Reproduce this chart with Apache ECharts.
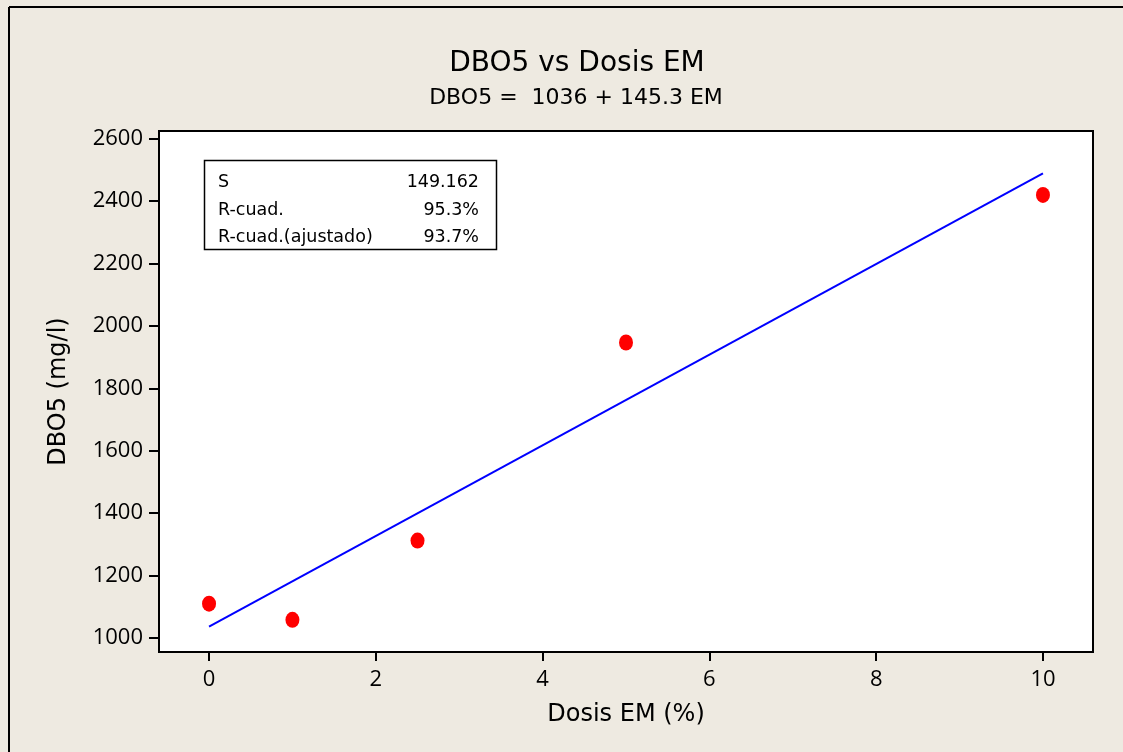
<!DOCTYPE html>
<html>
<head>
<meta charset="utf-8">
<script src="https://cdn.jsdelivr.net/npm/echarts@6/dist/echarts.min.js"></script>
<style>
  html, body { margin: 0; padding: 0; background: #EEEAE1; overflow: hidden; }
  #chart { width: 1123px; height: 752px; }
</style>
</head>
<body>
<div id="chart"></div>
<script>
// Observed DBO5 values per EM dose
const doses = [0, 1, 2.5, 5, 10];
const dbo5 = [1110, 1058, 1312, 1947, 2420];

// Fitted regression line DBO5 = 1036 + 145.3 EM, drawn over the dose range
const fitDoses = [0, 10];
const fitValues = [1036, 2489];

// Tick labels
const xTicks = [0, 2, 4, 6, 8, 10];
const yTicks = [1000, 1200, 1400, 1600, 1800, 2000, 2200, 2400, 2600];

// Regression summary rows
const statNames = ['S', 'R-cuad.', 'R-cuad.(ajustado)'];
const statValues = ['149.162', '95.3%', '93.7%'];

const TEXT_FONT = 'DejaVu Sans';
const TICK_FONT = 'Open Sans';

const chart = echarts.init(document.getElementById('chart'), null, { renderer: 'canvas' });

const statTexts = [];
const rowY = [182, 210, 237];
statNames.forEach((n, i) => {
  statTexts.push({
    type: 'text', x: 218, y: rowY[i], z: 11,
    style: { text: n, font: '17.5px "' + TEXT_FONT + '"', fill: '#000', verticalAlign: 'middle' }
  });
  statTexts.push({
    type: 'text', x: 479, y: rowY[i], z: 11,
    style: { text: statValues[i], font: '17.5px "' + TEXT_FONT + '"', fill: '#000',
             align: 'right', verticalAlign: 'middle' }
  });
});

chart.setOption({
  backgroundColor: '#EEEAE1',
  animation: false,
  title: [{
    text: 'DBO5 vs Dosis EM',
    left: 572, top: 45, textAlign: 'center',
    textStyle: { fontFamily: TEXT_FONT, fontSize: 28, fontWeight: 'normal', color: '#000' }
  }, {
    text: 'DBO5 =  1036 + 145.3 EM',
    left: 571, top: 82, textAlign: 'center',
    textStyle: { fontFamily: TEXT_FONT, fontSize: 22, fontWeight: 'normal', color: '#000' }
  }],
  grid: {
    left: 159, top: 131, right: 30, bottom: 100,
    show: true, backgroundColor: '#FFFFFF', borderColor: '#000', borderWidth: 2
  },
  xAxis: {
    type: 'value', min: -0.6, max: 10.6,
    name: 'Dosis EM (%)', nameLocation: 'middle', nameGap: 51,
    nameTextStyle: { fontFamily: TEXT_FONT, fontSize: 24, color: '#000' },
    axisLine: { show: true, onZero: false, lineStyle: { color: '#000', width: 2 } },
    axisTick: { show: true, length: 9, customValues: xTicks, lineStyle: { color: '#000', width: 2 } },
    axisLabel: { customValues: xTicks, margin: 17, fontFamily: TICK_FONT, fontSize: 22, color: '#000',
                 formatter: v => String(v) },
    splitLine: { show: false }
  },
  yAxis: {
    type: 'value', min: 955, max: 2625,
    name: 'DBO5 (mg/l)', nameLocation: 'middle', nameGap: 88, nameRotate: 90,
    nameTextStyle: { fontFamily: TEXT_FONT, fontSize: 24, color: '#000' },
    axisLine: { show: true, onZero: false, lineStyle: { color: '#000', width: 2 } },
    axisTick: { show: true, length: 10, customValues: yTicks, lineStyle: { color: '#000', width: 2 } },
    axisLabel: { customValues: yTicks, margin: 16, fontFamily: TICK_FONT, fontSize: 22, color: '#000',
                 formatter: v => String(v) },
    splitLine: { show: false }
  },
  series: [{
    type: 'line',
    data: fitDoses.map((d, i) => [d, fitValues[i]]),
    showSymbol: false, symbol: 'none',
    lineStyle: { color: '#0000FF', width: 2 },
    z: 2
  }, {
    type: 'scatter',
    data: doses.map((d, i) => [d, dbo5[i]]),
    symbol: 'circle', symbolSize: [14, 16],
    itemStyle: { color: '#FF0000', opacity: 1 },
    z: 3
  }],
  graphic: [
    // page frame along the top and left edges
    { type: 'line', shape: { x1: 9, y1: 7, x2: 1123, y2: 7 },
      style: { stroke: '#000', lineWidth: 2 }, z: 10 },
    { type: 'line', shape: { x1: 9, y1: 7, x2: 9, y2: 752 },
      style: { stroke: '#000', lineWidth: 2 }, z: 10 },
    // regression summary box
    { type: 'rect', shape: { x: 204.5, y: 160.5, width: 292, height: 89 },
      style: { fill: '#FFFFFF', stroke: '#000', lineWidth: 1.5 }, z: 10 },
    ...statTexts
  ]
});
</script>
</body>
</html>
